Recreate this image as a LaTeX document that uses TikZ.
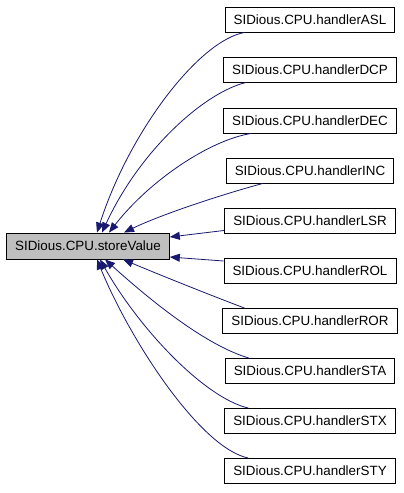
\documentclass[tikz,border=0pt]{standalone}
\usepackage{fontspec}
\setmainfont{Liberation Sans}
\usetikzlibrary{arrows.meta}
\definecolor{edgeblue}{HTML}{191970}
\definecolor{mainfill}{HTML}{BFBFBF}
\begin{document}
\begin{tikzpicture}[x=1pt,y=-1pt,
  box/.style={draw=black, line width=0.9pt, fill=white, minimum height=25pt,
    inner xsep=8.5pt, inner ysep=0pt, font=\fontsize{13.4}{16}\selectfont, text=black},
  mainbox/.style={box, fill=mainfill, minimum height=26pt},
  edge/.style={draw=edgeblue, line width=0.8pt, -{Triangle[length=10pt,width=8pt,fill=edgeblue]}}]
\useasboundingbox (0,0) rectangle (404,493);
\fill[white] (0,0) rectangle (404,493);
\node[mainbox] (sv) at (88,246) {SIDious.CPU.storeValue};
\node[box] (asl) at (310,19.5) {SIDious.CPU.handlerASL};
\node[box] (dcp) at (310,69.5) {SIDious.CPU.handlerDCP};
\node[box] (dec) at (310,120.5) {SIDious.CPU.handlerDEC};
\node[box] (inc) at (310,170.5) {SIDious.CPU.handlerINC};
\node[box] (lsr) at (310,220.5) {SIDious.CPU.handlerLSR};
\node[box] (rol) at (310,270.5) {SIDious.CPU.handlerROL};
\node[box] (ror) at (310,321) {SIDious.CPU.handlerROR};
\node[box] (sta) at (310,371) {SIDious.CPU.handlerSTA};
\node[box] (stx) at (310,421) {SIDious.CPU.handlerSTX};
\node[box] (sty) at (310,471) {SIDious.CPU.handlerSTY};
% edges
\draw[edge] ([xshift=20pt]asl.south west) .. controls (200,40) and (130,130) .. ([xshift=9pt]sv.north);
\draw[edge] ([xshift=23pt]dcp.south west) .. controls (205,92) and (140,150) .. ([xshift=14pt]sv.north);
\draw[edge] ([xshift=28pt]dec.south west) .. controls (210,140) and (150,180) .. ([xshift=21pt]sv.north);
\draw[edge] ([xshift=37pt]inc.south west) .. controls (220,195) and (160,215) .. ([xshift=36pt]sv.north);
\draw[edge] ([yshift=3pt]lsr.south west) -- ([yshift=9pt]sv.east);
\draw[edge] ([yshift=9.5pt]rol.west) -- ([yshift=-11pt]sv.east);
\draw[edge] ([xshift=22pt]ror.north west) .. controls (210,295) and (160,275) .. ([xshift=35pt]sv.south);
\draw[edge] ([xshift=24pt]sta.north west) .. controls (205,345) and (150,300) .. ([xshift=17pt]sv.south);
\draw[edge] ([xshift=24pt]stx.north west) .. controls (205,398) and (140,330) .. ([xshift=12pt]sv.south);
\draw[edge] ([xshift=24pt]sty.north west) .. controls (200,448) and (130,340) .. ([xshift=9pt]sv.south);
\end{tikzpicture}
\end{document}
